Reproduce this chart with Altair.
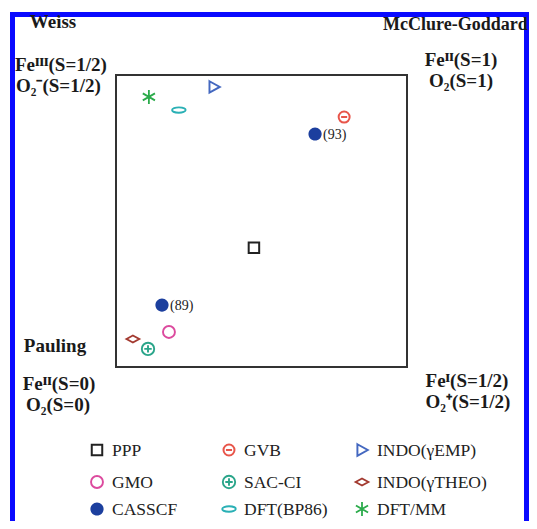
import altair as alt
import pandas as pd

# ---------------- data ----------------
methods = ["PPP", "GVB", "INDO(γEMP)", "GMO", "SAC-CI", "INDO(γTHEO)",
           "CASSCF", "DFT(BP86)", "DFT/MM"]
colors = ["#222222", "#e8554a", "#4468c0", "#dc4a9e", "#2aa58a", "#a33a30",
          "#1c3f9e", "#2ab0b5", "#2bab4b"]

pt_method = ["PPP", "GVB", "INDO(γEMP)", "GMO", "SAC-CI", "INDO(γTHEO)",
             "CASSCF", "CASSCF", "DFT(BP86)", "DFT/MM"]
pt_x = [0.474, 0.784, 0.337, 0.182, 0.110, 0.058, 0.684, 0.158, 0.216, 0.113]
pt_y = [0.408, 0.856, 0.959, 0.120, 0.062, 0.096, 0.798, 0.212, 0.880, 0.925]
pt_label = ["", "", "", "", "", "", "(93)", "(89)", "", ""]

legend_rows = [["PPP", "GVB", "INDO(γEMP)"],
               ["GMO", "SAC-CI", "INDO(γTHEO)"],
               ["CASSCF", "DFT(BP86)", "DFT/MM"]]

# ---------------- layout (page pixels of the reference) ----------------
W, H = 521, 513
OX, OY = 8, 8
PL, PR, PT, PB = 116, 407, 75, 367


def tx(px):
    return (px - PL) / (PR - PL)


def ty(py):
    return (PB - py) / (PB - PT)


xs = alt.Scale(domain=[tx(OX), tx(OX + W)], nice=False, zero=False)
ys = alt.Scale(domain=[ty(OY + H), ty(OY)], nice=False, zero=False)

# symbol styles
circ = "M-1,0A1,1 0 1,0 1,0A1,1 0 1,0 -1,0Z"
paths = [
    "M-1,-1L1,-1L1,1L-1,1Z",
    circ + "M-0.55,0L0.55,0",
    "M-0.8,-1L1,0L-0.8,1Z",
    circ,
    circ + "M-0.6,0L0.6,0M0,-0.6L0,0.6",
    "M-1,0L0,-0.55L1,0L0,0.55Z",
    circ,
    "M-1,0A1,0.4 0 1,0 1,0A1,0.4 0 1,0 -1,0Z",
    "M0,-1L0,1M-0.87,-0.5L0.87,0.5M-0.87,0.5L0.87,-0.5",
]
sizes = [110, 196, 196, 169, 169, 400, 210, 400, 169]
swidths = [2, 1.8, 1.8, 2, 1.6, 2, 1, 2, 2.6]

shape_enc = alt.Shape("method:N", scale=alt.Scale(domain=methods, range=paths), legend=None)
color_enc = alt.Color("method:N", scale=alt.Scale(domain=methods, range=colors), legend=None)
size_enc = alt.Size("method:O", scale=alt.Scale(domain=methods, range=sizes), legend=None)
sw_enc = alt.StrokeWidth("method:O", scale=alt.Scale(domain=methods, range=swidths), legend=None)

FONT = "Liberation Serif"

pts = pd.DataFrame({"method": pt_method, "x": pt_x, "y": pt_y, "label": pt_label})

base_x = alt.X("x:Q", scale=xs, axis=None)
base_y = alt.Y("y:Q", scale=ys, axis=None)

# frames
outer_df = pd.DataFrame({"x": [tx(12.5)], "x2": [tx(526.5)], "y": [ty(545)], "y2": [ty(14.5)]})
plot_df = pd.DataFrame({"x": [0.0], "x2": [1.0], "y": [0.0], "y2": [1.0]})
outer = alt.Chart(outer_df).mark_rect(
    fill=None, stroke="#0a0aff", strokeWidth=5, clip=False
).encode(x=base_x, x2="x2", y=base_y, y2="y2")
plotbox = alt.Chart(plot_df).mark_rect(
    fill=None, stroke="#333333", strokeWidth=2
).encode(x=base_x, x2="x2", y=base_y, y2="y2")

open_pts = alt.Chart(pts[pts["method"] != "CASSCF"]).mark_point(
    filled=False, opacity=1
).encode(x=base_x, y=base_y, shape=shape_enc, color=color_enc, size=size_enc, strokeWidth=sw_enc)
filled_pts = alt.Chart(pts[pts["method"] == "CASSCF"]).mark_point(
    filled=True, opacity=1
).encode(x=base_x, y=base_y, shape=shape_enc, color=color_enc, size=size_enc)
pt_labels = alt.Chart(pts[pts["label"] != ""]).mark_text(
    align="left", baseline="middle", dx=8, dy=1, font=FONT, fontSize=14, color="#222222"
).encode(x=base_x, y=base_y, text="label:N")

# corner annotations: text, page x, page baseline y, align, size
ann = [
    ("Weiss", 53, 28, "center", 19),
    ("McClure-Goddard", 383, 30, "left", 18),
    ("Feᴵᴵᴵ(S=1/2)", 15, 71, "left", 19),
    ("O₂⁻(S=1/2)", 16, 92, "left", 19),
    ("Feᴵᴵ(S=1)", 461, 66, "center", 19),
    ("O₂(S=1)", 461, 87, "center", 19),
    ("Pauling", 55, 352, "center", 19),
    ("Feᴵᴵ(S=0)", 59, 390, "center", 19),
    ("O₂(S=0)", 58, 411, "center", 19),
    ("Feᴵ(S=1/2)", 467, 387, "center", 19),
    ("O₂⁺(S=1/2)", 468, 408, "center", 19),
]
ann_df = pd.DataFrame({
    "text": [a[0] for a in ann],
    "x": [tx(a[1]) for a in ann],
    "y": [ty(a[2]) for a in ann],
    "al": [a[3] for a in ann],
    "fs": [a[4] for a in ann],
})
ann_layers = []
for al in ["left", "center"]:
    for fs in [18, 19]:
        sub = ann_df[(ann_df["al"] == al) & (ann_df["fs"] == fs)]
        if len(sub) == 0:
            continue
        ann_layers.append(
            alt.Chart(sub).mark_text(
                align=al, baseline="alphabetic", font=FONT, fontSize=fs,
                fontWeight="bold", color="#1a1a1a", clip=False
            ).encode(x=base_x, y=base_y, text="text:N")
        )

# legend grid
col_px = [97, 229, 362]
row_px = [450, 482, 509]
lg = []
for r, row in enumerate(legend_rows):
    for c, m in enumerate(row):
        lg.append({"method": m, "x": tx(col_px[c]), "y": ty(row_px[r])})
lg_df = pd.DataFrame(lg)
lg_open = alt.Chart(lg_df[lg_df["method"] != "CASSCF"]).mark_point(
    filled=False, opacity=1, clip=False
).encode(x=base_x, y=base_y, shape=shape_enc, color=color_enc, size=size_enc, strokeWidth=sw_enc)
lg_fill = alt.Chart(lg_df[lg_df["method"] == "CASSCF"]).mark_point(
    filled=True, opacity=1, clip=False
).encode(x=base_x, y=base_y, shape=shape_enc, color=color_enc, size=size_enc)
lg_text = alt.Chart(lg_df).mark_text(
    align="left", baseline="middle", dx=15, dy=1, font=FONT, fontSize=17.5,
    color="#222222", clip=False
).encode(x=base_x, y=base_y, text="method:N")

chart = alt.layer(
    outer, plotbox, open_pts, filled_pts, pt_labels, *ann_layers, lg_open, lg_fill, lg_text
).properties(
    width=W, height=H, padding=0, background="white",
    autosize=alt.AutoSizeParams(type="none"),
).configure_view(stroke=None)

chart.save("out.html", embed_options={"renderer": "svg", "actions": False})
